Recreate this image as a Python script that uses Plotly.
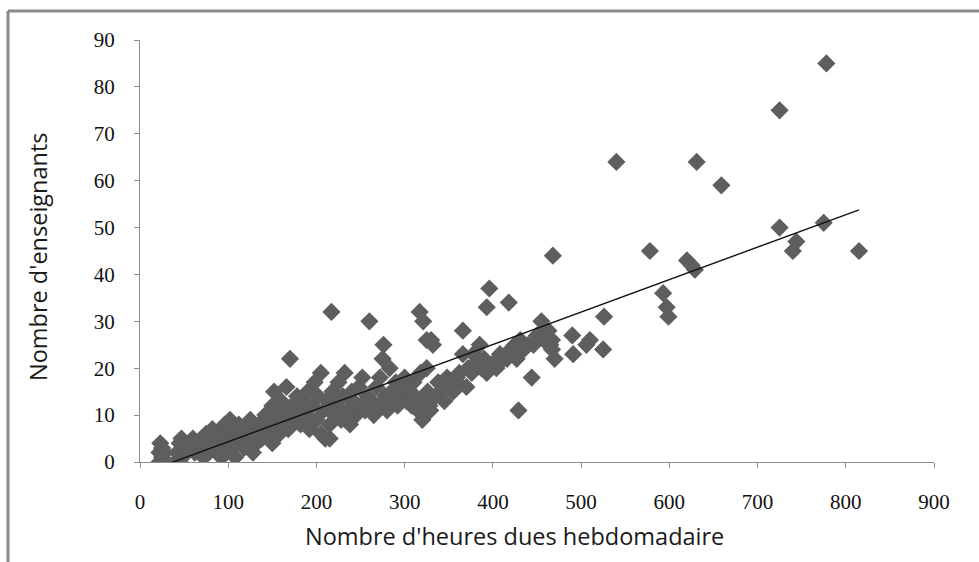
import numpy as np
import plotly.graph_objects as go

# Weekly hours owed (x) and number of teachers (y) per school
heures = [
    22, 22, 23, 25, 25, 28,
    40, 42, 45, 47, 48, 50, 52, 55, 58, 60, 45,
    62, 65, 68, 70, 72, 75, 78, 80, 82, 85, 88, 90, 92, 94, 96, 98, 100, 100, 102, 104, 106, 108,
    110, 112, 115, 118, 120, 122, 125, 128, 130, 132, 135, 138, 140, 142, 145, 148, 150, 150, 152, 155, 157, 158,
    160, 162, 165, 166, 168, 170, 172, 175, 178, 180, 182, 185, 188, 190, 192, 195, 198, 200, 202, 205, 205, 208,
    210, 212, 215, 217, 215,
    218, 220, 222, 225, 228, 230, 232, 235, 238, 240, 242, 245, 248, 250, 252, 255, 258, 260, 262, 265, 268,
    270, 272, 275, 276, 278, 280, 283, 285, 288, 290, 292, 295, 298, 300, 302, 305, 308, 310, 312, 315, 317,
    318, 320, 321, 322, 325, 325, 326, 328, 329, 330, 332,
    335, 338, 340, 345, 348, 350, 355, 359, 359, 362, 366, 366, 370, 372, 376, 378, 380, 385, 387, 390, 393,
    393, 396, 400, 404, 408, 412, 416, 418, 420, 425, 427, 429, 431, 431, 435, 440, 444, 446, 450, 455, 458,
    460, 463, 465, 467, 467, 468, 470,
    490, 491, 506, 510, 525, 526, 540,
    578, 593, 597, 599, 620, 625, 629, 631, 659, 725, 725, 740, 744, 775, 778, 815,
]
enseignants = [
    0, 2, 4, 1, 3, 2,
    0, 2, 4, 5, 1, 3, 2, 4, 3, 5, 0,
    2, 4, 3, 5, 1, 6, 2, 4, 7, 3, 5, 6, 1, 4, 8, 2, 5, 7, 9, 3, 6, 1,
    4, 8, 6, 3, 7, 5, 9, 2, 6, 4, 8, 5, 7, 10, 6, 9, 12, 4, 15, 8, 11, 6,
    13, 9, 10, 16, 7, 22, 12, 9, 14, 11, 8, 13, 10, 15, 7, 12, 17, 9, 14, 19, 6, 11,
    5, 13, 8, 32, 5,
    15, 10, 12, 17, 9, 14, 19, 11, 8, 15, 13, 10, 16, 12, 18, 11, 14, 30, 13, 10, 16,
    12, 18, 22, 25, 14, 11, 20, 15, 13, 17, 12, 16, 14, 18, 13, 15, 12, 17, 14, 11, 32,
    19, 9, 30, 13, 20, 26, 15, 12, 11, 26, 25,
    14, 17, 15, 13, 18, 16, 15, 18, 17, 19, 28, 23, 16, 20, 19, 23, 21, 25, 20, 22, 19,
    33, 37, 21, 20, 23, 22, 22, 34, 24, 25, 22, 11, 26, 24, 24, 25, 18, 25, 27, 30, 26,
    28, 28, 25, 26, 24, 44, 22,
    27, 23, 25, 26, 24, 31, 64,
    45, 36, 33, 31, 43, 42, 41, 64, 59, 75, 50, 45, 47, 51, 85, 45,
]

x_ticks = [0, 100, 200, 300, 400, 500, 600, 700, 800, 900]
y_ticks = [0, 10, 20, 30, 40, 50, 60, 70, 80, 90]

# Least-squares linear trend drawn across the data range
pente, origine = np.polyfit(heures, enseignants, 1)
x_tend = [min(heures), max(heures)]
y_tend = [pente * v + origine for v in x_tend]

fig = go.Figure()
fig.add_trace(go.Scatter(
    x=heures, y=enseignants, mode="markers",
    marker=dict(symbol="diamond", size=14, color="#5e5e5e", line=dict(width=0)),
    showlegend=False, hoverinfo="x+y",
))
fig.add_trace(go.Scatter(
    x=x_tend, y=y_tend, mode="lines",
    line=dict(color="#111111", width=1.4),
    showlegend=False, hoverinfo="skip",
))

serif = "Liberation Serif, Times New Roman, serif"
sans = "Open Sans, Noto Sans, sans-serif"

axis_common = dict(
    showgrid=False, zeroline=False, showline=True,
    linecolor="#8c8c8c", linewidth=1,
    ticks="outside", ticklen=5, tickcolor="#8c8c8c", tickwidth=1,
    tickfont=dict(family=serif, size=21, color="#111111"),
)

fig.update_layout(
    width=979, height=562,
    margin=dict(l=140, r=45, t=40, b=100),
    paper_bgcolor="white", plot_bgcolor="white",
    xaxis=dict(range=[0, 900], tickvals=x_ticks, ticklabelstandoff=16, **axis_common),
    yaxis=dict(range=[0, 90], tickvals=y_ticks, ticklabelstandoff=15, **axis_common),
    annotations=[
        dict(text="Nombre d'heures dues hebdomadaire", xref="paper", yref="paper",
             x=(514 - 140) / 794, y=(462 - 536) / 422, xanchor="center", yanchor="middle",
             showarrow=False, font=dict(family=sans, size=23.5, color="#1a1a1a")),
        dict(text="Nombre d'enseignants", xref="paper", yref="paper",
             x=(38 - 140) / 794, y=(462 - 257) / 422, xanchor="center", yanchor="middle",
             textangle=-90, showarrow=False, font=dict(family=sans, size=23.5, color="#1a1a1a")),
    ],
    shapes=[
        # outer frame: top and left edges
        dict(type="line", xref="paper", yref="paper",
             x0=(8 - 140) / 794, x1=(979 - 140) / 794,
             y0=(462 - 11) / 422, y1=(462 - 11) / 422,
             line=dict(color="#8a8a8a", width=3)),
        dict(type="line", xref="paper", yref="paper",
             x0=(8 - 140) / 794, x1=(8 - 140) / 794,
             y0=(462 - 11) / 422, y1=(462 - 562) / 422,
             line=dict(color="#8a8a8a", width=3)),
    ],
)

fig.write_html("out.html")
